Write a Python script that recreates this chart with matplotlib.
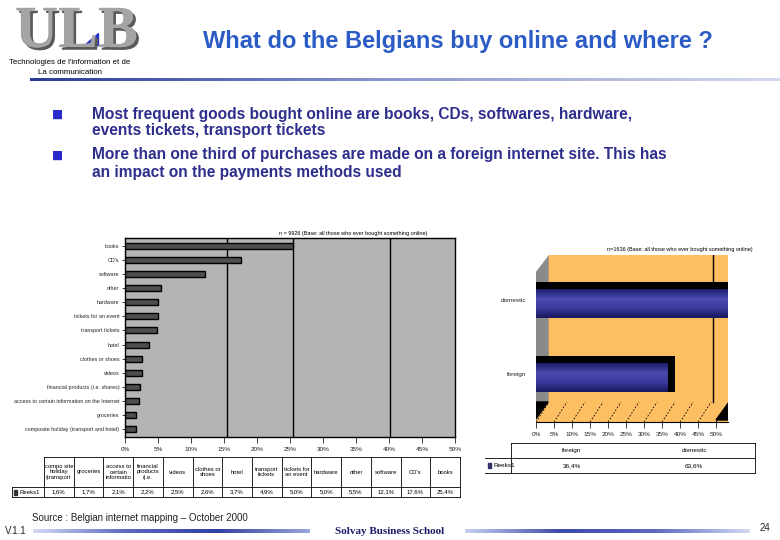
# What do the Belgians buy online and where ? -- slide 24

import numpy as np
import matplotlib
matplotlib.use("Agg")
import matplotlib.pyplot as plt
import matplotlib.patheffects as pe
from matplotlib.patches import Rectangle, Polygon
from matplotlib.colors import LinearSegmentedColormap

# data, left chart (ascending, bottom bar first)
goods = ["composite holiday (transport and hotel)", "groceries",
         "access to certain information on the Internet",
         "financial products (i.e. shares)", "videos", "clothes or shoes",
         "hotel", "transport tickets", "tickets for an event", "hardware",
         "other", "software", "CD's", "books"]
goods_short = ["compo site\nholiday\n(transport", "groceries",
               "access to\ncertain\ninformatio", "financial\nproducts\n(i.e.",
               "videos", "clothes or\nshoes", "hotel", "transport\ntickets",
               "tickets for\nan event", "hardware", "other", "software",
               "CD's", "books"]
goods_pct = [1.6, 1.7, 2.1, 2.2, 2.5, 2.6, 3.7, 4.9, 5.0, 5.0, 5.5, 12.1, 17.6, 25.4]

# data, right chart
sites = ["foreign", "domestic"]
sites_pct = [36.4, 63.6]

pct_ticks = list(range(0, 51, 5))
series_name = "Reeks1"

bullets = ["Most frequent goods bought online are books, CDs, softwares, hardware,",
           "events tickets, transport tickets",
           "More than one third of purchases are made on a foreign internet site. This has",
           "an impact on the payments methods used"]

W, H = 780, 540
plt.rcParams["font.family"] = ["Liberation Sans", "DejaVu Sans"]
fig = plt.figure(figsize=(7.8, 5.4), dpi=100)


def px_axes(x0, y0, x1, y1):
    return fig.add_axes([x0 / W, 1 - y1 / H, (x1 - x0) / W, (y1 - y0) / H])


def ftext(x, y, s, **kw):
    return fig.text(x / W, 1 - y / H, s, **kw)


def fpoly(pts, **kw):
    pts = [(x / W, 1 - y / H) for x, y in pts]
    fig.patches.append(Polygon(pts, closed=True, transform=fig.transFigure, **kw))


def grad_strip(x0, y0, x1, y1, colors):
    a = px_axes(x0, y0, x1, y1)
    cmap = LinearSegmentedColormap.from_list("g", colors)
    a.imshow(np.linspace(0, 1, 256)[None, :], aspect="auto", cmap=cmap)
    a.axis("off")


def fmt(v):
    return f"{v:.1f}%".replace(".", ",")


# ---- header: logo, title, lines
logo = ftext(15, 47, "ULB", fontsize=43, family="Liberation Serif", weight="bold",
             color="#a4a4a4", va="baseline")
logo.set_path_effects([pe.withSimplePatchShadow(offset=(2, -2), shadow_rgbFace="#5a5a5a",
                                                alpha=1), pe.Normal()])
fpoly([(84, 45), (98, 45), (98, 33)], color="#2233cc")
ftext(70, 62, "Technologies de l'information et de", fontsize=5.7, ha="center", va="center")
ftext(70, 72, "La communication", fontsize=5.7, ha="center", va="center")
ftext(458, 42, "What do the Belgians buy online and where ?", fontsize=17,
      weight="bold", color="#2b5bc4", ha="center", va="center")
grad_strip(30, 78, 780, 81, ["#2a3a9a", "#8e9ad0", "#d4d8ee"])

# ---- bullets
for y, s in zip([114, 131, 155, 172], bullets):
    ftext(92, y, s, fontsize=11.2, weight="bold", color="#2e2e8c", va="center")
for y in [114, 155]:
    ftext(58, y, "\u25a0", fontsize=8.5, family="DejaVu Sans", color="#2a2acc",
          ha="center", va="center")

# ---- left chart
ax1 = px_axes(125, 238, 455, 437)
y = np.arange(len(goods))
ax1.set_facecolor("#b4b4b4")
for g in [15.5, 25.5, 40.2]:
    ax1.axvline(g, color="black", lw=1, zorder=1)
ax1.barh(y, goods_pct, height=0.43, color="#4e4e4e", edgecolor="black", lw=1, zorder=2)
ax1.set_xlim(0, 50)
ax1.set_ylim(-0.57, 13.57)
ax1.set_xticks(pct_ticks)
ax1.set_xticklabels([f"{t}%" for t in pct_ticks], fontsize=4.6)
ax1.set_yticks(y)
ax1.set_yticklabels(goods, fontsize=3.9)
ax1.tick_params(axis="x", length=4, width=0.6, pad=3, colors="#222222")
ax1.tick_params(axis="y", length=2, width=0.6, pad=2, colors="#222222")
for sp in ax1.spines.values():
    sp.set_linewidth(1)
ftext(353, 233, "n = 9926 (Base: all those who ever bought something online)",
      fontsize=4, ha="center", va="center")

# left table
ta = px_axes(0, 0, W, H)
ta.set_xlim(0, W)
ta.set_ylim(H, 0)
ta.axis("off")
cx = np.linspace(44, 460, len(goods) + 1)
ta.plot([44, 460], [457, 457], color="black", lw=0.6)
ta.plot([12, 460], [487, 487], color="black", lw=0.6)
ta.plot([12, 460], [497, 497], color="black", lw=0.6)
for x in cx:
    ta.plot([x, x], [457, 497], color="black", lw=0.6)
ta.plot([12, 12], [487, 497], color="black", lw=0.6)
for i in range(len(goods)):
    xm = (cx[i] + cx[i + 1]) / 2
    ta.text(xm, 472, goods_short[i], fontsize=4.2, ha="center", va="center",
            linespacing=1.1)
    ta.text(xm, 492, fmt(goods_pct[i]), fontsize=4.3, ha="center", va="center")
ta.add_patch(Rectangle((14, 489.5), 3, 5, color="#333333"))
ta.text(19, 492, series_name, fontsize=4.3, va="center")

# ---- right chart
ax2 = px_axes(536, 255, 728, 422)
ax2.set_facecolor("#fdbf62")
ys = np.arange(len(sites))
DEPTH = 2.2
ax2.barh(ys, [v + DEPTH for v in sites_pct], height=0.49, color="black", lw=0, zorder=2)
blue = LinearSegmentedColormap.from_list("b", ["#1c1c6a", "#4b4bb0", "#3a3a9c", "#18185e"])
tops = ax2.barh(ys - 0.055, sites_pct, height=0.38, color="none", lw=0, zorder=3)
for rect in tops:
    x0, y0 = rect.get_x(), rect.get_y()
    ax2.imshow(np.linspace(0, 1, 64)[:, None], cmap=blue, aspect="auto",
               extent=[x0, x0 + rect.get_width(), y0, y0 + rect.get_height()],
               zorder=3)
ax2.set_xlim(0, 53.3)
ax2.set_ylim(-0.65, 1.61)
ax2.axvline(49, ymin=0.12, color="black", lw=1, zorder=1)
for t in pct_ticks:
    ax2.plot([t, t + 3.6], [-0.65, -0.38], color="black", lw=0.6, ls=(0, (2, 2)), zorder=1)
ax2.set_xticks(pct_ticks)
ax2.set_xticklabels([f"{t}%" for t in pct_ticks], fontsize=4.6)
ax2.set_yticks(ys)
ax2.set_yticklabels(sites, fontsize=4.6)
ax2.tick_params(axis="x", length=4, width=0.6, pad=3, colors="#222222")
ax2.tick_params(axis="y", length=0, pad=7, colors="#222222")
for k in ["top", "right", "left"]:
    ax2.spines[k].set_visible(False)
ax2.spines["bottom"].set_linewidth(0.8)
# 3D wall and floor edges
ax2.add_patch(Polygon([(535 / W, 1 - 272 / H), (548 / W, 1 - 255 / H), (548 / W, 1 - 402 / H),
                       (535 / W, 1 - 420 / H)], transform=fig.transFigure,
                      color="#8a8a8a", zorder=1.5))
ax2.add_patch(Polygon([(535 / W, 1 - 255 / H), (548 / W, 1 - 255 / H), (535 / W, 1 - 272 / H)],
                      transform=fig.transFigure, color="white", zorder=1.5))
ax2.add_patch(Polygon([(535 / W, 1 - 420 / H), (548 / W, 1 - 402 / H), (535 / W, 1 - 402 / H)],
                      transform=fig.transFigure, color="black", zorder=1.6))
ax2.add_patch(Polygon([(716 / W, 1 - 420 / H), (729 / W, 1 - 402 / H), (729 / W, 1 - 420 / H)],
                      transform=fig.transFigure, color="black", zorder=1.6))
ftext(680, 249, "n=1636 (Base: all those who ever bought something online)",
      fontsize=4, ha="center", va="center")

# right table
ta.plot([511, 755], [443, 443], color="black", lw=0.6)
ta.plot([485, 755], [458, 458], color="black", lw=0.6)
ta.plot([485, 755], [473, 473], color="black", lw=0.6)
ta.plot([511, 511], [443, 473], color="black", lw=0.6)
ta.plot([755, 755], [443, 473], color="black", lw=0.6)
rx = np.linspace(511, 755, len(sites) + 1)
for i in range(len(sites)):
    xm = (rx[i] + rx[i + 1]) / 2
    ta.text(xm, 450.5, sites[i], fontsize=4.6, ha="center", va="center")
    ta.text(xm, 465.5, fmt(sites_pct[i]), fontsize=4.6, ha="center", va="center")
ta.add_patch(Rectangle((488, 463), 3, 5, color="#333366"))
ta.text(493, 465.5, series_name, fontsize=4.6, va="center")

# ---- footer
ftext(32, 518, "Source : Belgian internet mapping \u2013 October 2000", fontsize=7,
      color="#222222", va="center")
ftext(5, 531, "V.1.1", fontsize=7, color="#222222", va="center")
ftext(760, 528, "24", fontsize=7, color="#222222", va="center")
ftext(390, 531, "Solvay Business School", fontsize=8, family="Liberation Serif",
      weight="bold", color="#1b1b6b", ha="center", va="center")
grad_strip(33, 529, 310, 533, ["#d4daf2", "#5a6ac0", "#3040a0", "#9aa6da"])
grad_strip(465, 529, 750, 533, ["#c8d0f0", "#3a4aa8", "#5a6ac0", "#d4daf2"])

fig.savefig("out.png", dpi=100)
